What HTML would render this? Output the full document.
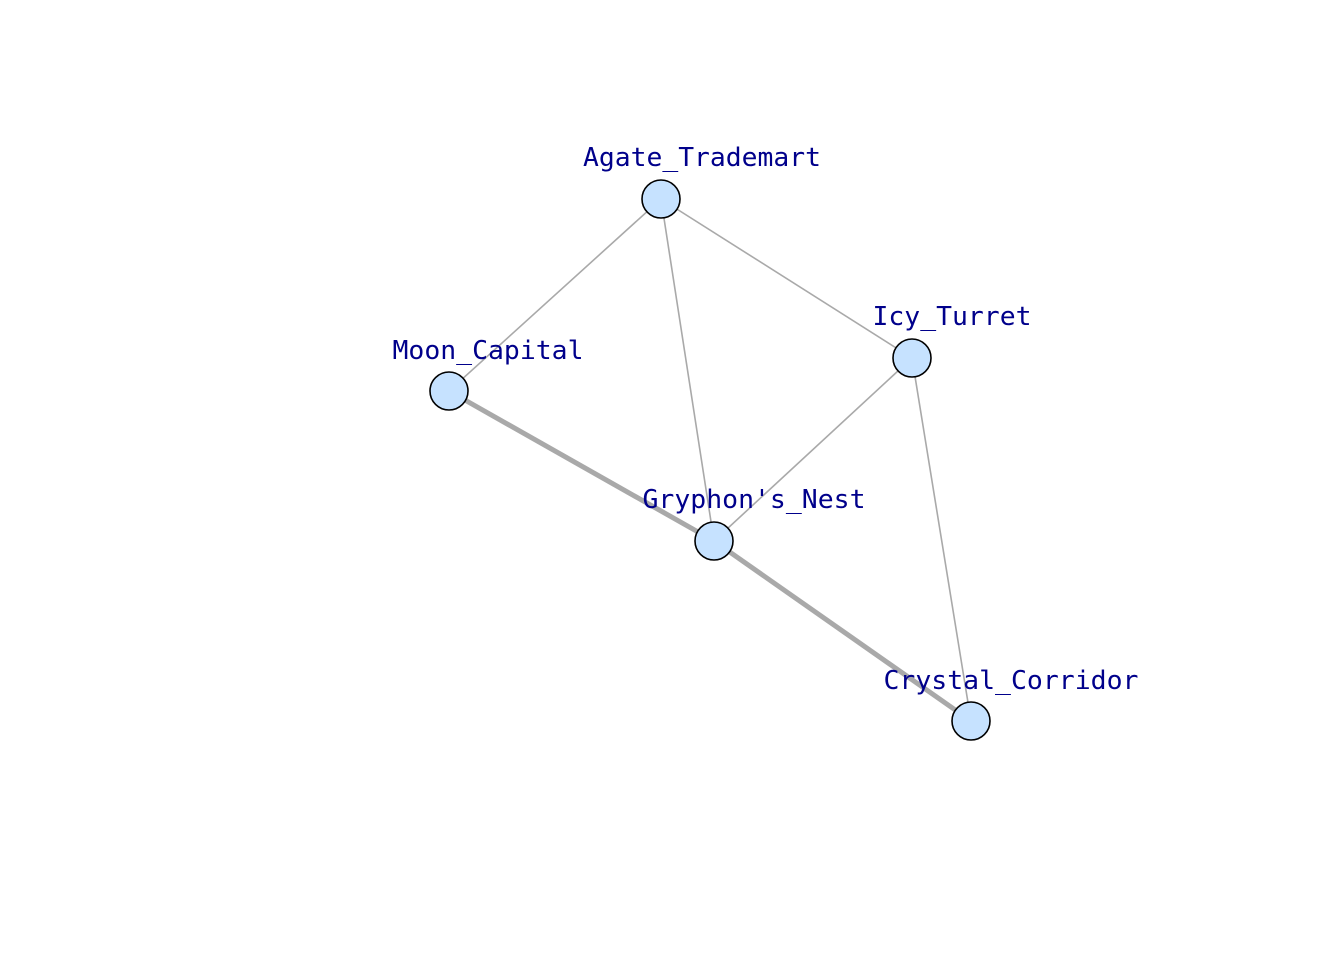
<!DOCTYPE html>
<html><head><meta charset="utf-8"><style>html,body{margin:0;padding:0;background:#fff}</style></head>
<body>
<svg width="1344" height="960" xmlns="http://www.w3.org/2000/svg">
<g stroke="#a9a9a9" stroke-width="1.6">
<line x1="661" y1="199" x2="449" y2="391"/>
<line x1="661" y1="199" x2="714" y2="541"/>
<line x1="661" y1="199" x2="912" y2="358"/>
<line x1="912" y1="358" x2="714" y2="541"/>
<line x1="912" y1="358" x2="971" y2="721"/>
</g>
<g stroke="#a9a9a9" stroke-width="5">
<line x1="449" y1="391" x2="714" y2="541"/>
<line x1="714" y1="541" x2="971" y2="721"/>
</g>
<g fill="#c6e2ff" stroke="#000" stroke-width="1.6">
<circle cx="661" cy="199" r="19"/>
<circle cx="912" cy="358" r="19"/>
<circle cx="449" cy="391" r="19"/>
<circle cx="714" cy="541" r="19"/>
<circle cx="971" cy="721" r="19"/>
</g>
<g font-family="'DejaVu Sans Mono','Liberation Mono',monospace" font-size="25.5" fill="#00008b" text-anchor="middle">
<text x="702" y="166" textLength="238" lengthAdjust="spacingAndGlyphs">Agate_Trademart</text>
<text x="952" y="325" textLength="159" lengthAdjust="spacingAndGlyphs">Icy_Turret</text>
<text x="488" y="359" textLength="191" lengthAdjust="spacingAndGlyphs">Moon_Capital</text>
<text x="754" y="508" textLength="223" lengthAdjust="spacingAndGlyphs">Gryphon's_Nest</text>
<text x="1011" y="689" textLength="255" lengthAdjust="spacingAndGlyphs">Crystal_Corridor</text>
</g>
</svg>
</body></html>
